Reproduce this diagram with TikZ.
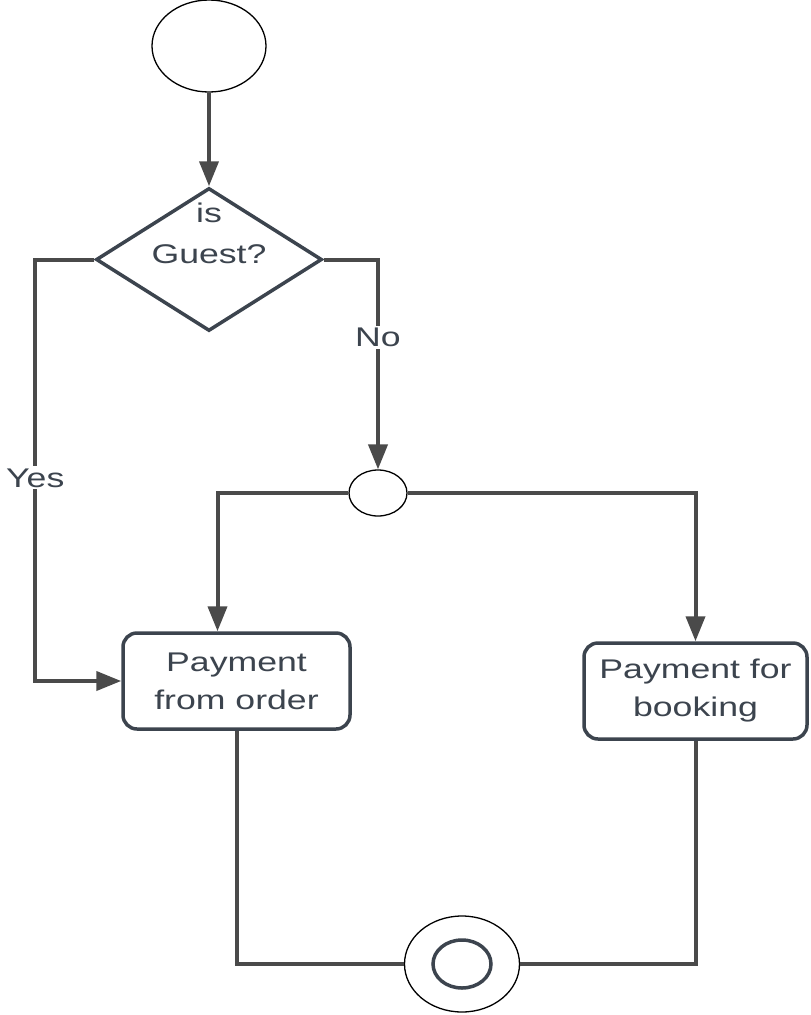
\documentclass[tikz,border=0pt]{standalone}
\usepackage{fontspec}
\usetikzlibrary{shapes.geometric,arrows.meta}
\newfontfamily\flowfont{Liberation Sans}[FakeStretch=1.32]
\definecolor{linegray}{HTML}{4A4A4A}
\definecolor{slate}{HTML}{3C444E}
\begin{document}
\begin{tikzpicture}[x=1pt,y=-1pt,
  txt/.style={font=\flowfont\fontsize{27}{38}\selectfont, text=slate, align=center},
  terminal/.style={ellipse, draw=black, line width=1.3, fill=white, inner sep=0},
  decision/.style={diamond, draw=slate, line width=3.5, fill=white, inner sep=0},
  activity/.style={rectangle, rounded corners=14, draw=slate, line width=3.5, fill=white, inner sep=0,
                   txt},
  conn/.style={draw=linegray, line width=4},
  flow/.style={conn, -{Triangle[length=25pt,width=19pt]}},
  lbl/.style={txt, fill=white, inner sep=2}]
\useasboundingbox (0,0) rectangle (811,1015);

% nodes
\node[terminal, minimum width=114, minimum height=92] (start) at (209,46) {};
\node[decision, minimum width=226, minimum height=143] (dec) at (209,259.5) {};
\node[txt, font=\flowfont\fontsize{27}{41}\selectfont] (dectext) at (209,233) {is\\Guest?};
\node[terminal, minimum width=58, minimum height=46] (fork) at (378,493) {};
\node[activity, minimum width=227, minimum height=96] (box1) at (236.5,681) {Payment\\from order};
\node[activity, minimum width=223, minimum height=96] (box2) at (695.5,691) {Payment for\\booking};
\node[terminal, minimum width=115, minimum height=96] (endc) at (462,964) {};
\node[ellipse, draw=slate, line width=3.5, inner sep=0, minimum width=58, minimum height=48] (endring) at (endc.center) {};

% connectors
\draw[flow] (start.south) -- (dec.north);
\draw[flow] (dec.east) -| node[lbl, pos=0.686] {No} (fork.north);
\draw[flow] (dec.west) -- ++(-59,0) |- node[lbl, pos=0.259] {Yes} (box1.west);
\draw[flow] (fork.west) -| ([xshift=-19]box1.north);
\draw[flow] (fork.east) -| (box2.north);
\draw[conn] (box1.south) |- (endc.west);
\draw[conn] (box2.south) |- (endc.east);
\end{tikzpicture}
\end{document}
